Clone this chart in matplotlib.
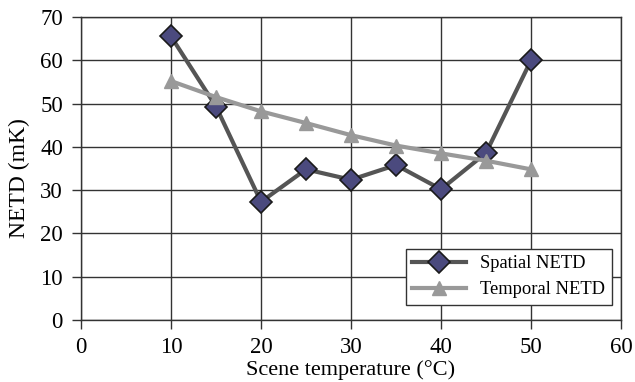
import matplotlib
matplotlib.use("Agg")
import matplotlib.pyplot as plt

temps = [10, 15, 20, 25, 30, 35, 40, 45, 50]
spatial_netd = [65.5, 49.3, 27.3, 34.8, 32.4, 35.8, 30.2, 38.6, 60.0]
temporal_netd = [55.2, 51.5, 48.2, 45.5, 42.7, 40.3, 38.5, 36.8, 34.8]

plt.rcParams['font.family'] = ['Liberation Serif', 'DejaVu Serif']

fig = plt.figure(figsize=(6.35, 3.82), dpi=100)
ax = fig.add_axes([0.1276, 0.1623, 0.8504, 0.7932])

ax.plot(temps, spatial_netd, color='#555555', lw=3, marker='D', ms=11,
        mfc='#4b4a7e', mec='#1a1a1a', mew=1.2, label='Spatial NETD', zorder=3)
ax.plot(temps, temporal_netd, color='#999999', lw=3, marker='^', ms=10,
        mfc='#999999', mec='#999999', label='Temporal NETD', zorder=4)

ax.set_xlim(0, 60)
ax.set_ylim(0, 70)
ax.set_xticks(range(0, 61, 10))
ax.set_yticks(range(0, 71, 10))
ax.grid(True, color='#333333', lw=1)
ax.set_axisbelow(True)
for s in ax.spines.values():
    s.set_color('#333333')
    s.set_linewidth(1)
ax.tick_params(labelsize=16.5, length=6.5, width=1, color='#333333')
ax.tick_params(axis='x', pad=6)
ax.tick_params(axis='y', pad=6.5)

ax.set_xlabel('Scene temperature (°C)', fontsize=16)
ax.set_ylabel('NETD (mK)', fontsize=17)
ax.xaxis.set_label_coords(0.5, -0.133)
ax.yaxis.set_label_coords(-0.094, 0.469)

leg = ax.legend(loc='lower right', fontsize=13.3, fancybox=False,
                framealpha=1, edgecolor='#333333', handlelength=2.9,
                borderpad=0.35, borderaxespad=0, bbox_to_anchor=(0.983, 0.05))
leg.get_frame().set_linewidth(1)

fig.savefig('out.png', dpi=100)
